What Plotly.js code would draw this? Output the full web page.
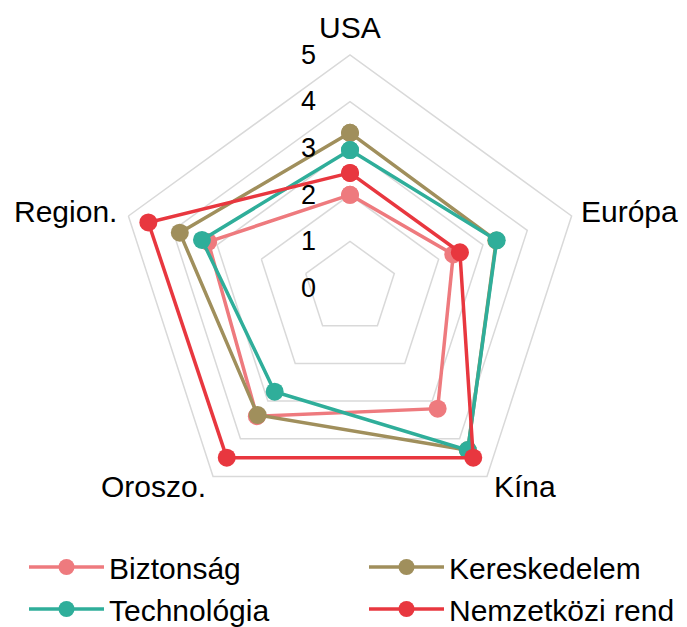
<!DOCTYPE html>
<html>
<head>
<meta charset="utf-8">
<script src="https://cdn.plot.ly/plotly-3.0.1.min.js"></script>
<style>html,body{margin:0;padding:0;background:#fff;}#chart{width:687px;height:627px;}</style>
</head>
<body>
<div id="chart"></div>
<script>
const categories = ["USA", "Európa", "Kína", "Oroszo.", "Region."];
const seriesNames = ["Biztonság", "Kereskedelem", "Technológia", "Nemzetközi rend"];
const biztonsag = [2.0, 2.33, 3.2, 3.4, 3.2];
const kereskedelem = [3.33, 3.3, 4.3, 3.37, 3.84];
const technologia = [2.96, 3.31, 4.3, 2.75, 3.34];
const nemzetkozi = [2.47, 2.48, 4.5, 4.5, 4.55];
const radialTicks = [0, 1, 2, 3, 4, 5];
const colors = ["#EE7A7E", "#A08F5C", "#2FAE9A", "#E8373F"];
const legendOf = ["legend", "legend2", "legend", "legend2"];

const W = 687, H = 627;
const seriesValues = [biztonsag, kereskedelem, technologia, nemzetkozi];
const close = a => a.concat([a[0]]);

const traces = seriesValues.map((vals, i) => ({
  type: "scatterpolar",
  mode: "lines+markers",
  name: seriesNames[i],
  legend: legendOf[i],
  r: close(vals),
  theta: close(categories),
  line: {color: colors[i], width: 3.5},
  marker: {color: colors[i], size: 18},
  cliponaxis: false
}));

// polar geometry (pixels)
const cxp = 350, cyp = 288, Rp = 233;

// category labels placed just outside each pentagon vertex
const annotations = categories.map((c, i) => {
  const a = (90 - 72 * i) * Math.PI / 180;
  const vx = cxp + Rp * Math.cos(a), vy = cyp - Rp * Math.sin(a);
  let x = vx, y = vy, xa = "center";
  const cs = Math.cos(a), sn = Math.sin(a);
  if (Math.abs(cs) < 0.1) { y = vy - 28; }
  else if (sn > 0) { xa = cs > 0 ? "left" : "right"; x = vx + (cs > 0 ? 7 : -9); y = vy - 4; }
  else { xa = cs > 0 ? "left" : "right"; x = vx + (cs > 0 ? 5 : -5); y = vy + 10; }
  return {
    text: c, showarrow: false, xref: "paper", yref: "paper",
    x: x / W, y: 1 - y / H, xanchor: xa, yanchor: "middle",
    font: {size: 30, color: "#000"}
  };
});

const legendBase = {
  orientation: "v",
  yanchor: "top",
  y: 1 - 541/H,
  xanchor: "left",
  font: {size: 30, color: "#000"},
  itemwidth: 75,
  tracegroupgap: 0,
  bgcolor: "rgba(0,0,0,0)",
  traceorder: "normal"
};

const layout = {
  width: W, height: H,
  margin: {l: 0, r: 0, t: 0, b: 0, autoexpand: false},
  paper_bgcolor: "#ffffff",
  font: {family: "Liberation Sans, Arial, sans-serif", color: "#000"},
  showlegend: true,
  legend: Object.assign({}, legendBase, {x: 24/W}),
  legend2: Object.assign({}, legendBase, {x: 364/W}),
  annotations: annotations,
  polar: {
    domain: {x: [(cxp - Rp)/W, (cxp + Rp)/W], y: [1 - (cyp + Rp)/H, 1 - (cyp - Rp)/H]},
    gridshape: "linear",
    bgcolor: "#ffffff",
    hole: 0,
    angularaxis: {
      type: "category",
      categoryarray: categories,
      rotation: 90,
      direction: "clockwise",
      showgrid: false,
      showline: true,
      linecolor: "#d9d9d9",
      linewidth: 1.5,
      ticks: "",
      showticklabels: false
    },
    radialaxis: {
      range: [0, 5],
      tickvals: radialTicks,
      ticktext: radialTicks.map(String),
      angle: 90,
      tickangle: 90,
      side: "counterclockwise",
      showline: false,
      gridcolor: "#d9d9d9",
      gridwidth: 1.5,
      ticks: "outside",
      ticklen: 24,
      tickcolor: "rgba(0,0,0,0)",
      tickfont: {size: 27, color: "#000"}
    }
  }
};

Plotly.newPlot("chart", traces, layout, {displayModeBar: false, staticPlot: true});
</script>
</body>
</html>
